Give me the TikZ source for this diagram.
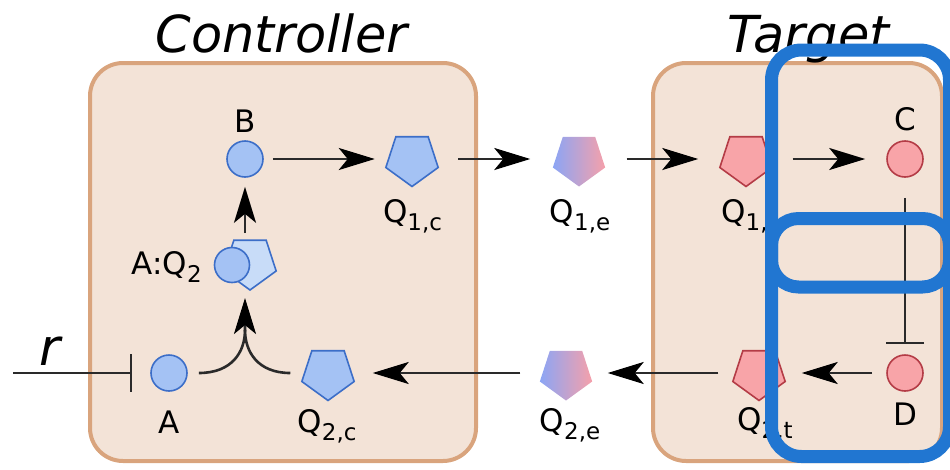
\documentclass[tikz,border=0pt]{standalone}
\usepackage{fontspec}
\setmainfont{DejaVu Sans}
\usetikzlibrary{shapes.geometric,arrows.meta}
\definecolor{boxfill}{HTML}{F3E3D7}
\definecolor{boxline}{HTML}{D9A47D}
\definecolor{bfill}{HTML}{A4C2F4}
\definecolor{bline}{HTML}{3C6EC8}
\definecolor{blight}{HTML}{C8DCF8}
\definecolor{rfill}{HTML}{F8A4A8}
\definecolor{rline}{HTML}{B43C46}
\definecolor{gleft}{HTML}{8CA5F5}
\definecolor{gright}{HTML}{F5A0AA}
\definecolor{linecol}{HTML}{2A2A2A}
\definecolor{hl}{HTML}{2176D1}
\newcommand{\sbs}[1]{\raisebox{-8pt}{\fontsize{23}{23}\selectfont #1}}
\begin{document}
\begin{tikzpicture}[x=1pt,y=-1pt,
  panel/.style={draw=boxline, fill=boxfill, line width=4pt, rounded corners=33pt},
  title/.style={font=\fontsize{51}{51}\selectfont\itshape, anchor=base, inner sep=0pt},
  lbl/.style={font=\fontsize{31}{31}\selectfont, anchor=base, inner sep=0pt},
  mol/.style={circle, minimum size=36pt, inner sep=0pt, line width=1.6pt},
  pent/.style={regular polygon, regular polygon sides=5, regular polygon rotate=180, minimum size=55pt, inner sep=0pt, line width=1.6pt},
  bluem/.style={fill=bfill, draw=bline},
  redm/.style={fill=rfill, draw=rline},
  mixm/.style={left color=gleft, right color=gright, draw=none},
  conn/.style={draw=linecol, line width=2.6pt, -{Stealth[length=36pt,width=22pt,inset=9pt,color=black]}},
  plain/.style={draw=linecol, line width=2.6pt},
  inhib/.style={draw=linecol, line width=2.2pt, -{Bar[width=38pt]}},
  hlbox/.style={draw=hl, line width=13pt, rounded corners=30pt}
]
\useasboundingbox (0,0) rectangle (950,469);
% panels
\draw[panel] (90,63) rectangle (476,461);
\draw[panel] (653,63) rectangle (942,461);
\node[title] (tc) at (281.5,52) {Controller};
\node[title] (tt) at (808.5,52) {Target};
% row 1
\node[mol,bluem] (B) at (245,159) {};
\node[pent,bluem] (Q1c) at (412,159) {};
\node[pent,mixm] (Q1e) at (579,159) {};
\node[pent,redm] (Q1t) at (746,159) {};
\node[mol,redm] (C) at (905,159) {};
% row 2
\node[mol,bluem] (A) at (169,373) {};
\node[pent,bluem] (Q2c) at (328,373) {};
\node[pent,mixm] (Q2e) at (566,373) {};
\node[pent,redm] (Q2t) at (759,373) {};
\node[mol,redm] (D) at (905,373) {};
% complex
\node[pent,fill=blight,draw=bline] (AQp) at (250,262.5) {};
\node[mol,bluem,minimum size=35pt] (AQc) at (232,265) {};
% labels
\node[lbl] (lB) at (245,132) {B};
\node[lbl] (lC) at (905,130) {C};
\node[lbl] (lQ1c) at (412.5,222) {Q\sbs{1,c}};
\node[lbl] (lQ1e) at (580,222) {Q\sbs{1,e}};
\node[lbl] (lQ1t) at (749,222) {Q\sbs{1,t}};
\node[lbl] (lQ2c) at (327,432) {Q\sbs{2,c}};
\node[lbl] (lQ2e) at (570,431) {Q\sbs{2,e}};
\node[lbl] (lQ2t) at (765,430) {Q\sbs{2,t}};
\node[lbl] (lA) at (169,433) {A};
\node[lbl] (lD) at (905,425) {D};
\node[lbl, anchor=base east] (lAQ) at (202,274) {A:Q\sbs{2}};
\node[title] (lr) at (50,365) {r};
% coordinates
\coordinate (r0) at (13,373);
\coordinate (M) at (245,330);
\coordinate (Mt) at (245,298);
\coordinate (AQt) at (245,233);
% connectors row 1
\draw[conn, shorten <=9pt, shorten >=13pt] (B) -- (Q1c);
\draw[conn, shorten <=22pt, shorten >=24.5pt] (Q1c) -- (Q1e);
\draw[conn, shorten <=23.5pt, shorten >=23.5pt] (Q1e) -- (Q1t);
\draw[conn, shorten <=22.5pt, shorten >=21pt] (Q1t) -- (C);
% inhibition C -| D
\draw[inhib, shorten <=20pt, shorten >=10pt] (C) -- (D);
% row 2
\draw[conn, shorten <=14pt, shorten >=18.5pt] (D) -- (Q2t);
\draw[conn, shorten <=16.5pt, shorten >=17.5pt] (Q2t) -- (Q2e);
\draw[conn, shorten <=21.5pt, shorten >=20.5pt] (Q2e) -- (Q2c);
\draw[inhib, shorten >=18pt] (r0) -- (A);
% binding
\draw[conn, shorten <=11pt] (A) .. controls (232,373) and (245,352) .. (M) -- (Mt);
\draw[plain, shorten <=13.5pt] (Q2c) .. controls (258,373) and (245,352) .. (M);
\draw[conn, shorten >=9pt] (AQt) -- (B);
% highlight overlay
\draw[hlbox] (771.5,50) rectangle (949.5,456.5);
\draw[hlbox, rounded corners=27pt] (771.5,218.5) rectangle (949.5,287);
\end{tikzpicture}
\end{document}
